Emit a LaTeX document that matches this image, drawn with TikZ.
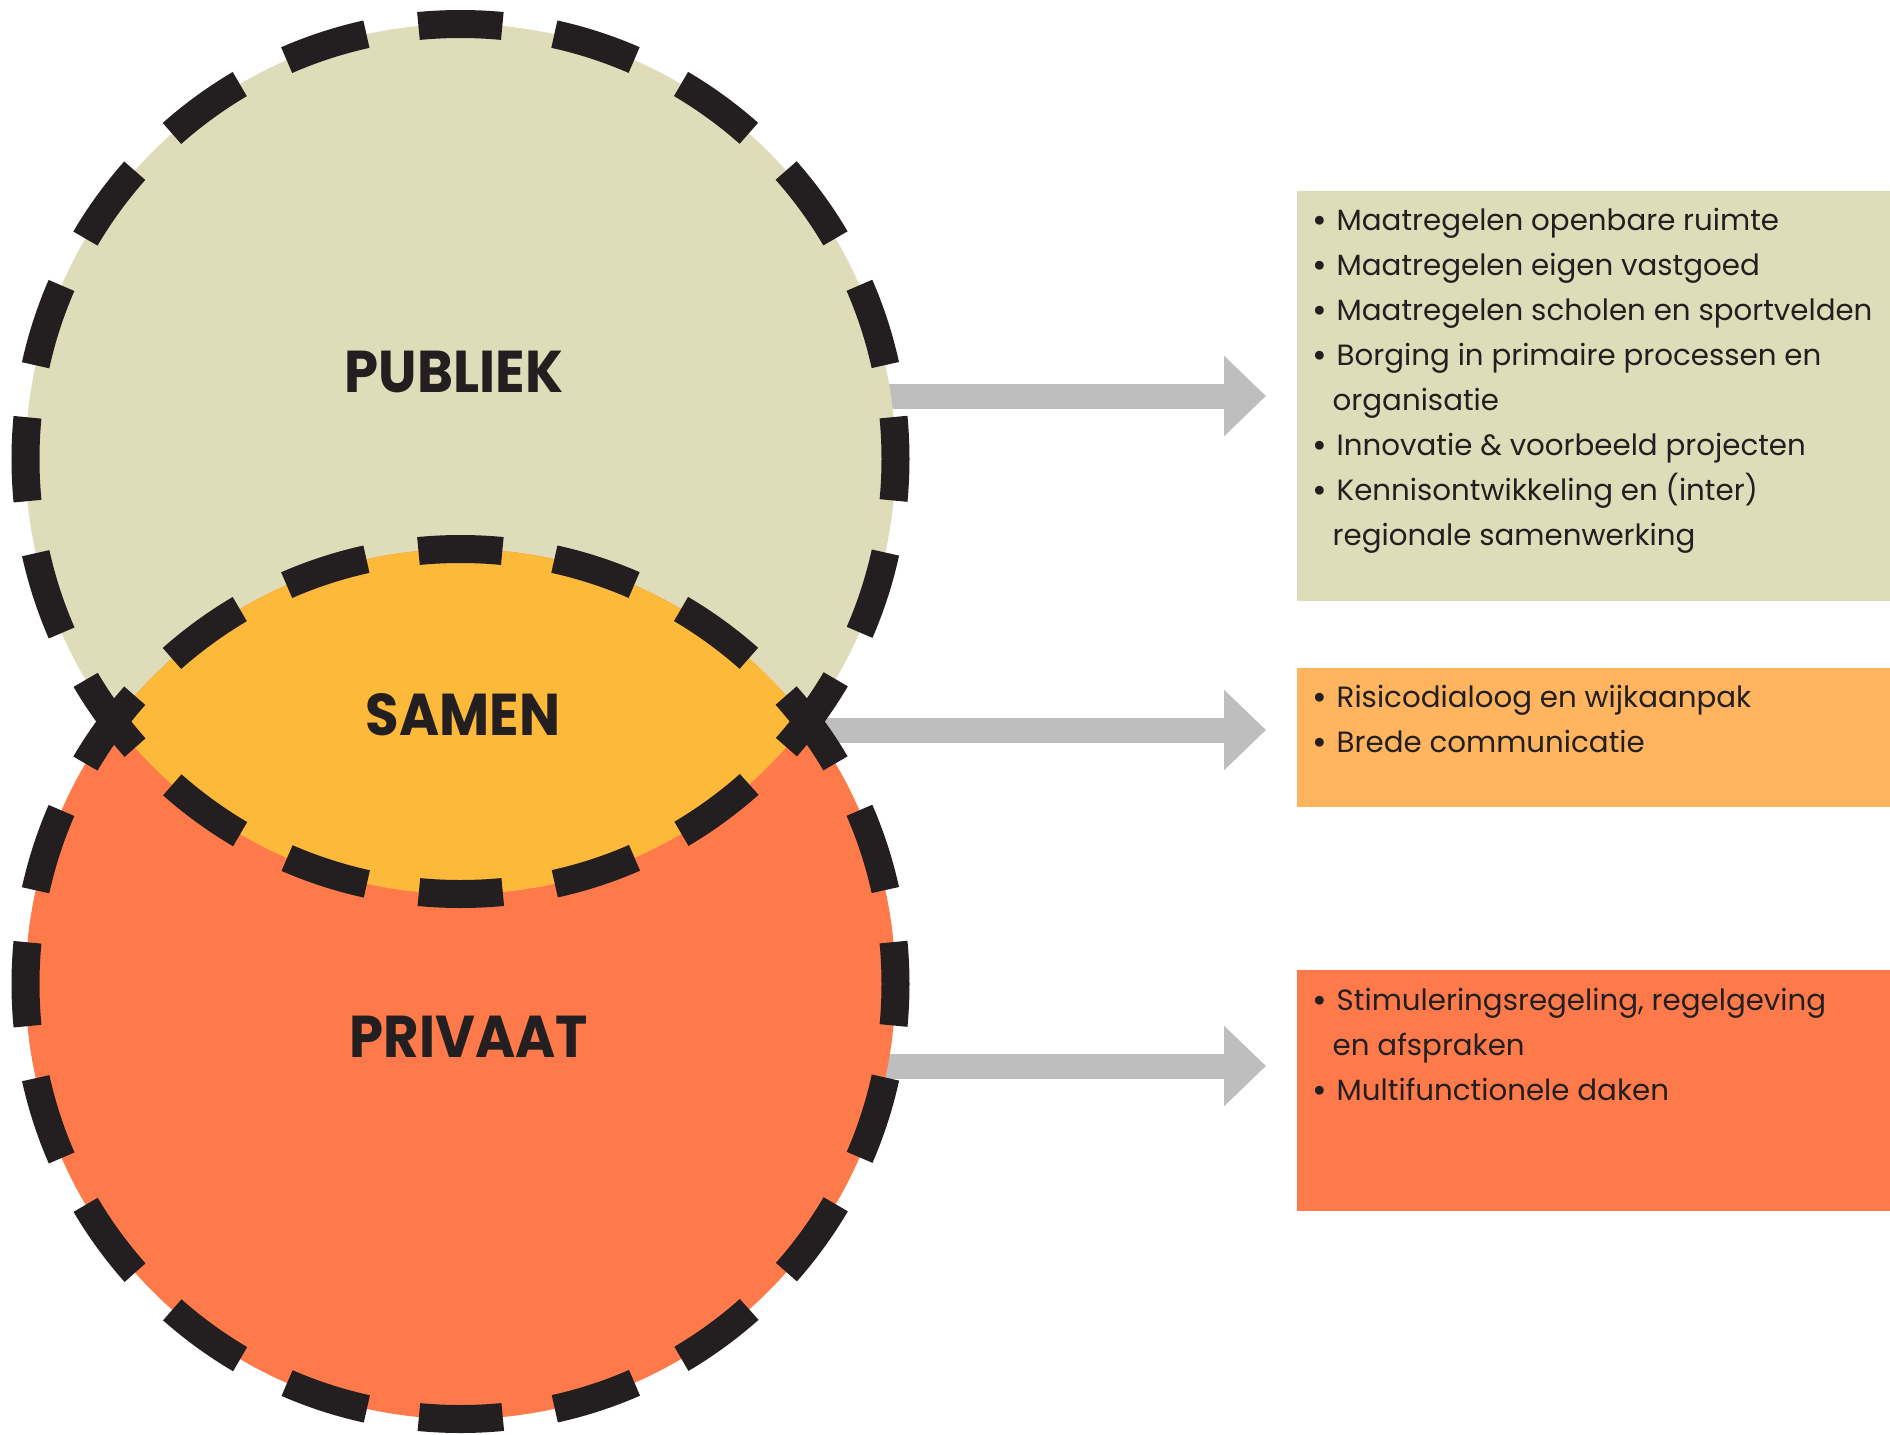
\documentclass[tikz,border=0pt]{standalone}
\usepackage{fontspec}
\setmainfont{Poppins}
\newfontfamily\headfont{Poppins}[FakeStretch=0.925]
\usepackage{tikz}
\usetikzlibrary{positioning}
\usetikzlibrary{arrows.meta}
\definecolor{ink}{HTML}{231F20}
\definecolor{pubcol}{HTML}{DFDDB9}
\definecolor{samcol}{HTML}{FDB93A}
\definecolor{privcol}{HTML}{FE7A4B}
\definecolor{sambox}{HTML}{FFB45F}
\definecolor{arrgray}{HTML}{BEBEBE}
\tikzstyle{pubc} = [circle, inner sep=0pt, minimum size=8.7cm, fill=pubcol]
\tikzstyle{privc} = [circle, inner sep=0pt, minimum size=8.7cm, fill=privcol]
\tikzstyle{ring} = [draw=ink, line width=2.8mm, dash pattern=on 8.4mm off 5.27mm, dash phase=4.2mm]
\tikzstyle{head} = [text=ink, inner sep=0pt, font=\headfont\bfseries\fontsize{5.9mm}{6mm}\selectfont]
\tikzstyle{lst} = [anchor=north west, inner sep=0pt, align=left, text=ink, font=\fontsize{2.93mm}{4.5mm}\selectfont]
\tikzstyle{bx} = [rectangle, anchor=north west, inner sep=0pt, minimum width=5.94cm]
\tikzstyle{arr} = [draw=arrgray, line width=2.5mm, -{Triangle[length=4.2mm,width=7.8mm]}, shorten >=3mm]
\newcommand{\itm}{\makebox[2.4mm][l]{\bfseries\textbullet}}
\newcommand{\cont}{\hspace*{2.0mm}}

\begin{document}
\begin{tikzpicture}
    \useasboundingbox (0,0) rectangle (18.9,-14.34);
    % boxes on the right
    \node (PubBox) [bx, fill=pubcol, minimum height=4.10cm] at (12.96,-1.90) {};
    \node (SamBox) [bx, fill=sambox, minimum height=1.39cm] at (12.96,-6.67) {};
    \node (PrivBox) [bx, fill=privcol, minimum height=2.41cm] at (12.96,-9.69) {};
    \node (PubList) [lst] at (13.12,-2.00) {\rule{0pt}{3mm}\itm Maatregelen openbare ruimte\\
        \itm Maatregelen eigen vastgoed\\
        \itm Maatregelen scholen en sportvelden\\
        \itm Borging in primaire processen en\\
        \cont organisatie\\
        \itm Innovatie \& voorbeeld projecten\\
        \itm Kennisontwikkeling en (inter)\\
        \cont regionale samenwerking};
    \node (SamList) [lst] at (13.12,-6.77) {\rule{0pt}{3mm}\itm Risicodialoog en wijkaanpak\\
        \itm Brede communicatie};
    \node (PrivList) [lst] at (13.12,-9.80) {\rule{0pt}{3mm}\itm Stimuleringsregeling, regelgeving\\
        \cont en afspraken\\
        \itm Multifunctionele daken};
    % arrows (start hidden under the circles)
    \coordinate (PubOut) at (8.0,-3.96);
    \coordinate (SamOut) at (7.6,-7.30);
    \coordinate (PrivOut) at (8.0,-10.66);
    \draw[arr] (PubOut) -- (PubOut -| PubBox.west);
    \draw[arr] (SamOut) -- (SamOut -| SamBox.west);
    \draw[arr] (PrivOut) -- (PrivOut -| PrivBox.west);
    % circles
    \node (PubCirc) [pubc] at (4.605,-4.59) {};
    \node (PrivCirc) [privc] at (4.605,-9.84) {};
    \begin{scope}
        \clip (PubCirc) circle (4.35);
        \fill[samcol] (PrivCirc) circle (4.35);
    \end{scope}
    \draw[ring] (PubCirc) circle (4.35);
    \draw[ring] (PrivCirc) circle (4.35);
    \node (Publiek) [head] at (4.54,-3.72) {PUBLIEK};
    \node (Samen) [head] at (4.63,-7.15) {SAMEN};
    \node (Privaat) [head] at (4.69,-10.37) {PRIVAAT};
\end{tikzpicture}
\end{document}
